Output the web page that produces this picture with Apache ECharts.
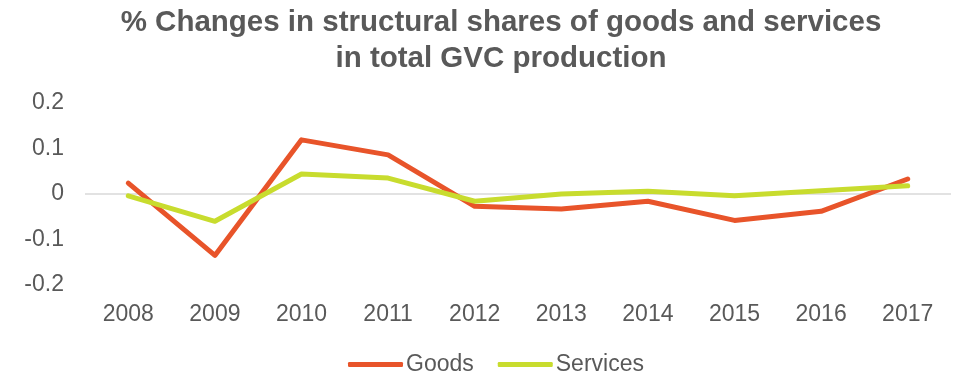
<!DOCTYPE html>
<html>
<head>
<meta charset="utf-8">
<script src="https://cdn.jsdelivr.net/npm/echarts@6/dist/echarts.min.js"></script>
<style>
  html, body { margin: 0; padding: 0; background: #ffffff; }
  #chart { width: 957px; height: 377px; }
</style>
</head>
<body>
<div id="chart"></div>
<script>
// Year-on-year % changes in structural shares within total GVC production
const years = ['2008', '2009', '2010', '2011', '2012', '2013', '2014', '2015', '2016', '2017'];
const goods = [0.024, -0.135, 0.119, 0.086, -0.027, -0.033, -0.016, -0.058, -0.038, 0.033];
const services = [-0.004, -0.060, 0.044, 0.035, -0.016, 0.000, 0.006, -0.004, 0.007, 0.018];
const yTicks = [-0.2, -0.1, 0, 0.1, 0.2];

const textColor = '#595959';
const font = 'Liberation Sans, Arial, sans-serif';

const chart = echarts.init(document.getElementById('chart'));
chart.setOption({
  animation: false,
  backgroundColor: '#ffffff',
  title: {
    text: '% Changes in structural shares of goods and services\nin total GVC production',
    // centred over the plot area rather than the whole canvas
    left: 496,
    textAlign: 'center',
    top: 0,
    textStyle: {
      color: textColor,
      fontFamily: font,
      fontWeight: 'bold',
      fontSize: 29.5,
      lineHeight: 36
    }
  },
  legend: {
    left: 343,
    top: 348,
    icon: 'roundRect',
    itemWidth: 55,
    itemHeight: 5,
    itemGap: 24,
    textStyle: { color: textColor, fontFamily: font, fontSize: 23, padding: [0, 0, 0, -2] },
    data: ['Goods', 'Services']
  },
  grid: { left: 85, right: 6, top: 103, bottom: 92, containLabel: false },
  xAxis: {
    type: 'category',
    data: years,
    boundaryGap: true,
    axisLine: { show: false },
    axisTick: { show: false },
    axisLabel: { color: textColor, fontFamily: font, fontSize: 23, margin: 18 }
  },
  yAxis: {
    type: 'value',
    min: yTicks[0],
    max: yTicks[yTicks.length - 1],
    interval: 0.1,
    splitLine: { show: false },
    axisLine: { show: false },
    axisTick: { show: false },
    axisLabel: {
      color: textColor, fontFamily: font, fontSize: 23, margin: 21,
      formatter: v => String(Math.round(v * 10) / 10)
    }
  },
  series: [
    {
      name: 'Goods',
      type: 'line',
      data: goods,
      symbol: 'none',
      z: 3,
      itemStyle: { color: '#E8542A' },
      lineStyle: { color: '#E8542A', width: 5, cap: 'round', join: 'round' },
      markLine: {
        silent: true,
        symbol: 'none',
        label: { show: false },
        lineStyle: { color: '#d9d9d9', width: 1.5, type: 'solid' },
        data: [{ yAxis: 0 }],
        z: 1
      }
    },
    {
      name: 'Services',
      type: 'line',
      data: services,
      symbol: 'none',
      z: 4,
      itemStyle: { color: '#C8DC2E' },
      lineStyle: { color: '#C8DC2E', width: 5, cap: 'round', join: 'round' }
    }
  ]
});
</script>
</body>
</html>
